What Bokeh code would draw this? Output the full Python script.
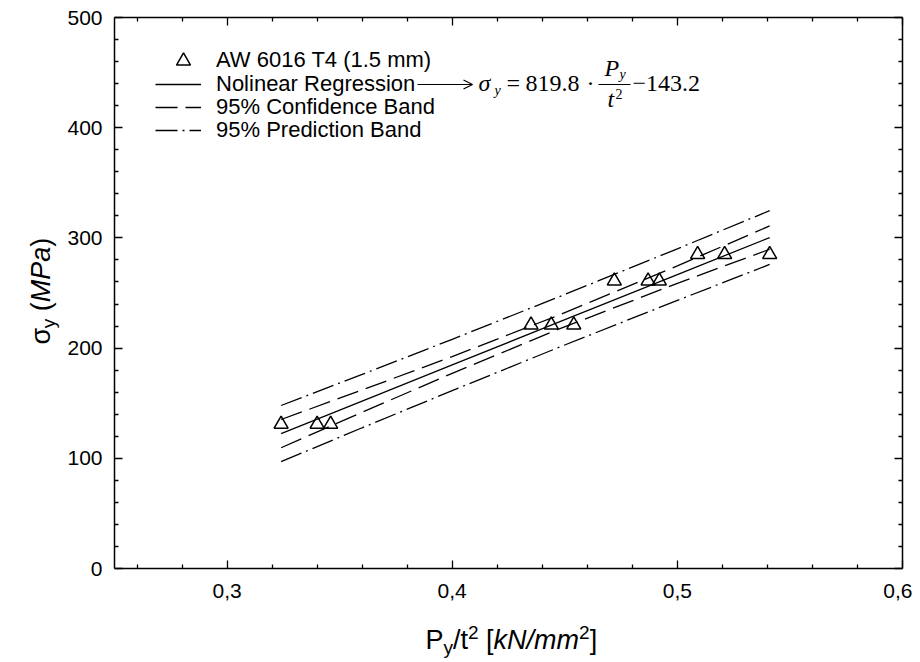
import math
from bokeh.plotting import figure
from bokeh.models import (Range1d, LinearAxis, FixedTicker, CustomJSTickFormatter,
                          Legend, LegendItem, Arrow, OpenHead)
from bokeh.core.properties import value
from bokeh.embed import file_html
from bokeh.resources import INLINE

# ---------------- data ----------------
x_data = [0.324, 0.340, 0.346, 0.435, 0.444, 0.454, 0.472, 0.487, 0.492, 0.509, 0.521, 0.541]
y_data = [131, 131, 131, 221, 221, 221, 261, 261, 261, 285, 285, 285]

band_x = [0.324, 0.360, 0.400, 0.447, 0.500, 0.541]
fit_y = [122.4, 151.9, 184.7, 223.3, 266.7, 300.3]
conf_upper = [135.2, 162.0, 192.3, 229.7, 274.6, 310.9]
conf_lower = [109.6, 141.8, 177.1, 216.9, 258.8, 289.7]
pred_upper = [147.9, 176.1, 208.0, 246.2, 290.1, 324.7]
pred_lower = [96.9, 127.7, 161.4, 200.4, 243.3, 275.9]

x_major = [0.3, 0.4, 0.5, 0.6]
x_minor = [0.26, 0.28, 0.32, 0.34, 0.36, 0.38, 0.42, 0.44, 0.46, 0.48,
           0.52, 0.54, 0.56, 0.58]
y_major = [0, 100, 200, 300, 400, 500]
y_minor = [v for v in range(0, 501, 20) if v % 100 != 0]

series_labels = ["AW 6016 T4 (1.5 mm)", "Nolinear Regression",
                 "95% Confidence Band", "95% Prediction Band"]

# ---------------- layout constants ----------------
FL, FT, FW, FH = 114, 17, 788, 551      # frame left/top (page px), width, height
W, H = 912, 660
SANS = "Liberation Sans"
SERIF = "Liberation Serif"

p = figure(frame_width=FW, frame_height=FH,
           x_range=Range1d(0.25, 0.6), y_range=Range1d(0, 500),
           output_backend="svg", toolbar_location=None,
           min_border_left=FL, min_border_top=FT,
           min_border_right=W - FL - FW, min_border_bottom=H - FT - FH,
           x_axis_location=None, y_axis_location=None)
p.xgrid.visible = False
p.ygrid.visible = False
p.outline_line_color = None
p.background_fill_color = "white"
p.border_fill_color = "white"

# pixel ranges (frame-relative) for annotation text
p.extra_x_ranges = {"px": Range1d(0, FW)}
p.extra_y_ranges = {"py": Range1d(0, FH)}

comma_fmt = CustomJSTickFormatter(code="return tick.toFixed(1).replace('.', ',');")
blank_fmt = CustomJSTickFormatter(code="return '';")


def style_axis(ax):
    ax.axis_line_color = "black"
    ax.axis_line_width = 1.5
    ax.major_tick_line_color = "black"
    ax.minor_tick_line_color = "black"
    ax.major_tick_line_width = 1.3
    ax.minor_tick_line_width = 1.3
    ax.major_tick_in = 8
    ax.major_tick_out = 0
    ax.minor_tick_in = 4
    ax.minor_tick_out = 0
    ax.major_label_text_font = SANS
    ax.major_label_text_font_size = "21px"
    ax.major_label_text_color = "black"


xb = LinearAxis(ticker=FixedTicker(ticks=x_major, minor_ticks=x_minor), formatter=comma_fmt)
style_axis(xb)
xb.major_label_standoff = 15
xt = LinearAxis(ticker=FixedTicker(ticks=x_major, minor_ticks=x_minor), formatter=blank_fmt)
style_axis(xt)
xt.major_label_standoff = 0
yl = LinearAxis(ticker=FixedTicker(ticks=y_major, minor_ticks=y_minor))
style_axis(yl)
yl.major_label_standoff = 12
yr = LinearAxis(ticker=FixedTicker(ticks=y_major, minor_ticks=y_minor), formatter=blank_fmt)
style_axis(yr)
yr.major_label_standoff = 0
p.add_layout(xb, "below")
p.add_layout(xt, "above")
p.add_layout(yl, "left")
p.add_layout(yr, "right")

# ---------------- series ----------------
r_pts = p.scatter(x_data, y_data, marker="triangle", size=14, fill_color=None,
                  line_color="black", line_width=1.5)
r_fit = p.line(band_x, fit_y, line_color="black", line_width=1.3)
r_cu = p.line(band_x, conf_upper, line_color="black", line_width=1.3, line_dash="22 8")
r_cl = p.line(band_x, conf_lower, line_color="black", line_width=1.3, line_dash="22 8")
r_pu = p.line(band_x, pred_upper, line_color="black", line_width=1.3, line_dash="22 5 2 5")
r_pl = p.line(band_x, pred_lower, line_color="black", line_width=1.3, line_dash="22 5 2 5")


def fx(px):
    return px - FL


def fy(py):
    return FT + FH - py


common_legend = dict(padding=0, margin=0, spacing=0, label_height=20,
                     label_text_font=SANS, label_text_font_size="22px",
                     label_text_color="black",
                     border_line_alpha=0, background_fill_alpha=0)

# one legend box per row, so that the rows can sit as closely as in the reference
# marker row (taller glyph box so that the key triangle has the data marker's size)
p.add_layout(Legend(items=[LegendItem(label=series_labels[0], renderers=[r_pts])],
                    location=(fx(155), fy(77.5)),
                    glyph_width=56, glyph_height=35, label_standoff=5, **common_legend))
row_centers = [84, 107, 130]
for lbl, rend, cy in zip(series_labels[1:], [r_fit, r_cu, r_pu], row_centers):
    p.add_layout(Legend(items=[LegendItem(label=lbl, renderers=[rend])],
                        location=(fx(155), fy(cy + 12.7)),
                        glyph_width=46, glyph_height=20, label_standoff=15,
                        **common_legend))


def txt(text, px, pbase, size, font=SANS, style="normal"):
    """Horizontal text; (px, pbase) = left end and baseline in page pixels."""
    p.text(x=[fx(px)], y=[fy(pbase - 0.35 * size)], text=[text],
           x_range_name="px", y_range_name="py",
           text_font=value(font), text_font_size=value(f"{size}px"),
           text_font_style=style, text_color="black",
           text_align="left", text_baseline="middle", level="overlay")


def vtxt(text, pbase_x, py, size, font=SANS, style="normal"):
    """Text rotated 90 deg reading upward; pbase_x = baseline x, py = start (bottom) y."""
    p.text(x=[fx(pbase_x - 0.35 * size)], y=[fy(py)], text=[text],
           x_range_name="px", y_range_name="py",
           text_font=value(font), text_font_size=value(f"{size}px"),
           text_font_style=style, text_color="black", angle=math.pi / 2,
           text_align="left", text_baseline="middle", level="overlay")


# arrow from legend entry to equation
p.add_layout(Arrow(x_start=fx(417), y_start=fy(84), x_end=fx(472), y_end=fy(84),
                   start_units="screen", end_units="screen",
                   end=OpenHead(size=9, line_width=1.2, line_color="black"),
                   line_width=1.2, line_color="black"))

# equation  sigma_y = 819.8 * P_y / t^2 - 143.2
EQ = 24
txt("σ", 478, 91, EQ, SERIF, "italic")
txt("y", 494, 95, 14, SERIF, "italic")
txt("=", 506, 91, EQ, SERIF)
txt("819.8", 525, 91, EQ, SERIF)
txt("·", 586, 91, EQ, SERIF)
p.add_layout(Arrow(x_start=fx(598), y_start=fy(84), x_end=fx(630), y_end=fy(84),
                   start_units="screen", end_units="screen", end=None,
                   line_width=1.2, line_color="black"))
txt("P", 604, 76, EQ, SERIF, "italic")
txt("y", 619, 79, 14, SERIF, "italic")
txt("t", 607, 107, EQ, SERIF, "italic")
txt("2", 615, 98, 14, SERIF)
txt("−143.2", 632, 91, EQ, SERIF)

# x-axis title  P_y/t^2 [kN/mm^2]
TF = 27
SF = 19
xs = 425
txt("P", xs, 649, TF); xs += 0.667 * TF
txt("y", xs, 654, SF); xs += 0.5 * SF
txt("/t", xs, 649, TF); xs += 0.556 * TF
txt("2", xs, 639, SF); xs += 0.556 * SF + 0.278 * TF
txt("[", xs, 649, TF); xs += 0.278 * TF
txt("kN/mm", xs, 649, TF, style="italic"); xs += 3.166 * TF
txt("2", xs, 639, SF); xs += 0.556 * SF
txt("]", xs, 649, TF)

# y-axis title  sigma_y (MPa)  (rotated, reading upward)
bx = 50
ys = 344
vtxt("σ", bx, ys, TF); ys -= 0.6 * TF
vtxt("y", bx + 5, ys, SF); ys -= 0.5 * SF + 0.278 * TF
vtxt("(", bx, ys, TF); ys -= 0.333 * TF
vtxt("MPa", bx, ys, TF, style="italic"); ys -= 2.056 * TF
vtxt(")", bx, ys, TF)

open("out.html", "w").write(file_html(p, INLINE))
